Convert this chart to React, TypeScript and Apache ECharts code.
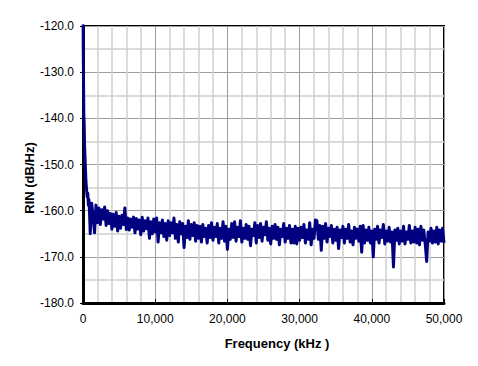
import React, { useEffect, useRef } from "react";
import * as echarts from "echarts";

// Low-frequency roll-off points [kHz, dB/Hz]
const EARLY: [number, number][] = [
  [0, -112], [40, -126], [80, -133], [120, -139.5], [160, -141], [220, -146],
  [280, -148.5], [340, -151], [420, -154], [500, -155.5], [580, -157],
  [660, -156.2], [740, -158.8], [820, -157.6], [900, -160.2],
];

// Measured RIN from 1,000 kHz to 50,000 kHz, one reading per 200 kHz bin
const BIN_START = 1000;
const BIN_STEP = 200;
const RIN: number[] = [
  -165.0, -158.4, -161.2, -164.8, -158.8, -162.6, -159.4, -163.0, -159.8, -161.8,
  -159.2, -163.2, -160.0, -162.8, -160.6, -164.0, -160.8, -163.4, -160.4, -164.4,
  -161.2, -163.8, -161.0, -163.0, -159.4, -164.1, -161.6, -164.2, -161.8, -163.6,
  -161.4, -164.8, -161.7, -164.0, -162.0, -165.2, -161.4, -164.4, -162.2, -163.9,
  -161.6, -166.0, -162.4, -165.0, -161.8, -164.6, -161.6, -166.8, -162.6, -164.8,
  -162.0, -165.6, -162.8, -166.4, -162.2, -165.4, -162.6, -164.8, -161.6, -166.0,
  -163.0, -166.8, -162.4, -165.0, -162.8, -168.0, -163.4, -165.8, -162.2, -166.2,
  -163.0, -165.4, -162.6, -166.6, -163.2, -166.0, -163.4, -166.8, -163.0, -165.6,
  -163.8, -167.0, -163.2, -165.8, -162.6, -166.4, -163.6, -165.6, -162.8, -167.0,
  -163.8, -166.0, -162.4, -166.6, -163.4, -168.4, -164.0, -166.2, -162.8, -165.8,
  -162.4, -166.6, -163.6, -165.6, -162.2, -166.8, -163.8, -166.0, -163.0, -166.2,
  -163.4, -167.6, -164.0, -165.4, -162.6, -167.0, -163.2, -165.8, -162.8, -166.6,
  -163.6, -165.2, -162.4, -166.4, -163.8, -167.2, -163.4, -166.0, -163.0, -166.2,
  -163.6, -167.4, -164.0, -165.6, -162.8, -166.8, -163.8, -166.0, -163.2, -167.0,
  -164.0, -167.0, -163.4, -167.2, -163.8, -166.4, -163.6, -165.8, -163.0, -167.0,
  -164.2, -166.2, -162.6, -167.4, -164.0, -166.0, -162.0, -162.2, -166.2, -163.2,
  -168.6, -163.4, -166.0, -162.8, -166.8, -163.8, -165.6, -163.2, -167.0, -164.0,
  -166.4, -163.6, -168.2, -164.2, -165.8, -163.4, -167.0, -164.0, -166.0, -163.0,
  -166.8, -164.4, -167.4, -163.6, -166.0, -164.0, -166.6, -163.4, -169.0, -163.2,
  -167.0, -164.2, -166.4, -163.6, -167.0, -164.4, -170.0, -164.0, -166.2, -163.4,
  -167.0, -164.2, -165.8, -163.0, -167.2, -164.4, -166.6, -163.6, -166.8, -164.6,
  -172.2, -164.2, -166.4, -163.8, -167.2, -164.4, -166.6, -163.4, -167.2, -164.6,
  -166.2, -163.2, -167.0, -164.4, -166.8, -163.6, -167.0, -164.0, -167.4, -163.4,
  -166.4, -164.2, -167.2, -171.0, -164.6, -166.6, -163.8, -167.0, -164.4, -166.8,
  -163.6, -167.2, -164.2, -166.6, -163.8, -167.0,
];

const X_TICKS = [0, 10000, 20000, 30000, 40000, 50000];
const Y_TICKS = [-180, -170, -160, -150, -140, -130, -120];
const X_TITLE = "Frequency (kHz )";
const Y_TITLE = "RIN (dB/Hz)";

export default function App() {
  const ref = useRef<HTMLDivElement>(null);
  useEffect(() => {
    if (!ref.current) return;
    const chart = echarts.init(ref.current, null, { renderer: "svg" });
    const data: [number, number][] = [
      ...EARLY,
      ...RIN.map((v, i) => [BIN_START + i * BIN_STEP, v] as [number, number]),
    ];
    const font = "'Liberation Sans', Arial, sans-serif";
    chart.setOption({
      animation: false,
      backgroundColor: "#ffffff",
      grid: {
        left: 83,
        top: 26,
        right: 34,
        bottom: 63,
        show: true,
        borderColor: "#000",
        borderWidth: 2,
        backgroundColor: "transparent",
      },
      xAxis: {
        type: "value",
        min: X_TICKS[0],
        max: X_TICKS[X_TICKS.length - 1],
        interval: 10000,
        axisLine: { show: true, onZero: false, lineStyle: { color: "#000", width: 3 } },
        axisTick: { show: true, inside: true, length: 4, lineStyle: { color: "#000", width: 1 } },
        minorTick: { show: false, splitNumber: 5 },
        splitLine: { show: true, lineStyle: { color: "#9c9c9c", width: 1 } },
        minorSplitLine: { show: true, lineStyle: { color: "#cfcfcf", width: 1.5 } },
        axisLabel: {
          color: "#000",
          fontFamily: font,
          fontSize: 12,
          margin: 10,
          formatter: (v: number) => v.toLocaleString("en-US"),
        },
      },
      yAxis: {
        type: "value",
        min: Y_TICKS[0],
        max: Y_TICKS[Y_TICKS.length - 1],
        interval: 10,
        axisLine: { show: true, onZero: false, lineStyle: { color: "#000", width: 3 } },
        axisTick: { show: true, inside: false, length: 3, lineStyle: { color: "#000", width: 1 } },
        minorTick: { show: false, splitNumber: 2 },
        splitLine: { show: true, lineStyle: { color: "#9c9c9c", width: 1 } },
        minorSplitLine: { show: true, lineStyle: { color: "#cfcfcf", width: 1.5 } },
        axisLabel: {
          color: "#000",
          fontFamily: font,
          fontSize: 12,
          margin: 9,
          formatter: (v: number) => v.toFixed(1),
        },
      },
      graphic: [
        {
          type: "text",
          x: 277,
          y: 343,
          style: {
            text: X_TITLE,
            fill: "#000",
            font: `bold 13px ${font}`,
            textAlign: "center",
            textVerticalAlign: "middle",
          },
        },
        {
          type: "text",
          x: 29,
          y: 178,
          rotation: Math.PI / 2,
          style: {
            text: Y_TITLE,
            fill: "#000",
            font: `bold 13px ${font}`,
            textAlign: "center",
            textVerticalAlign: "middle",
          },
        },
      ],
      series: [
        {
          type: "line",
          data,
          showSymbol: false,
          symbol: "none",
          clip: true,
          lineStyle: { color: "#000080", width: 3, join: "round" },
          z: 3,
        },
      ],
    });
    return () => chart.dispose();
  }, []);
  return <div ref={ref} style={{ width: 478, height: 366, position: "absolute", left: 0, top: 0 }} />;
}
